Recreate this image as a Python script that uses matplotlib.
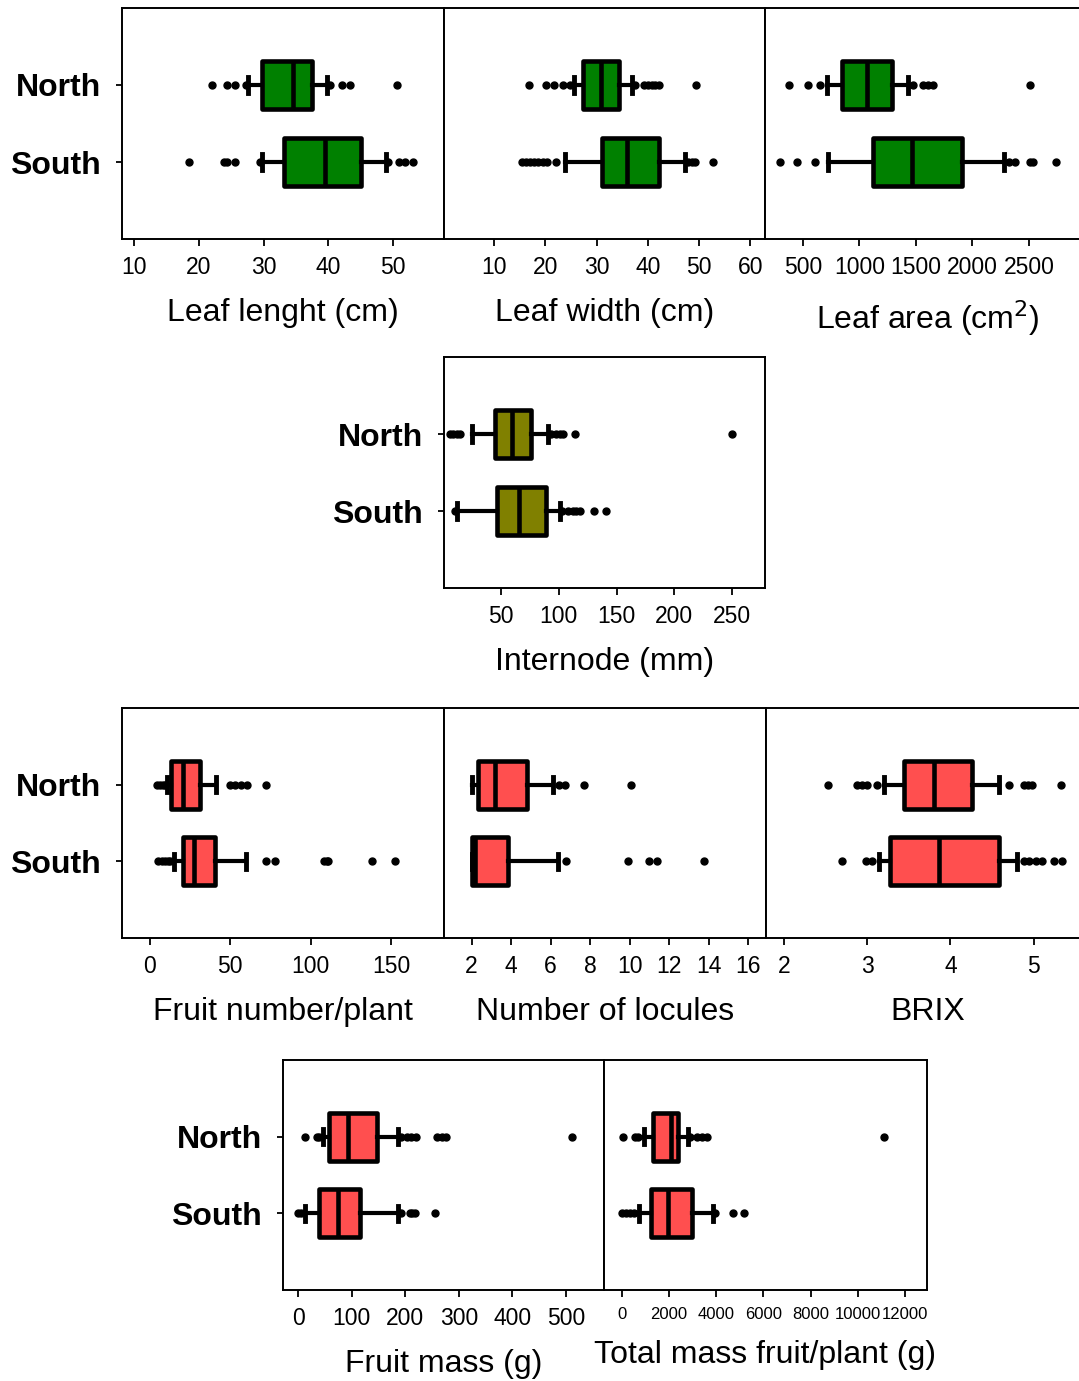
import matplotlib
matplotlib.use("Agg")
import matplotlib.pyplot as plt

plt.rcParams['font.family'] = ['Liberation Sans', 'DejaVu Sans']

groups = ["North", "South"]

# each box: [whislo, q1, median, q3, whishi]
leaf_length_box = [[27.6, 29.7, 34.6, 37.5, 39.8], [29.7, 33.1, 39.5, 45.0, 48.9]]
leaf_length_fliers = [[22.0, 24.4, 25.6, 27.3, 40.2, 42.1, 43.4, 50.7],
                      [18.4, 23.8, 24.4, 25.6, 29.4, 49.3, 50.9, 51.9, 53.1]]
leaf_length_ticks = [10, 20, 30, 40, 50]

leaf_width_box = [[25.5, 27.3, 30.8, 34.4, 37.0], [23.9, 31.0, 36.0, 42.1, 47.3]]
leaf_width_fliers = [[16.9, 20.2, 21.6, 23.5, 24.8, 37.6, 39.2, 40.0, 40.8, 41.5, 42.1, 49.4],
                     [15.4, 16.2, 17.0, 17.8, 18.6, 19.5, 20.3, 22.1, 47.8, 48.6, 49.3, 52.8]]
leaf_width_ticks = [10, 20, 30, 40, 50, 60]

leaf_area_box = [[710, 842, 1069, 1285, 1432], [719, 1122, 1462, 1904, 2279]]
leaf_area_fliers = [[379, 547, 650, 1470, 1565, 1610, 1655, 2509],
                    [296, 450, 606, 2320, 2376, 2510, 2535, 2737]]
leaf_area_ticks = [500, 1000, 1500, 2000, 2500]

internode_box = [[24.6, 44.8, 59.3, 75.7, 91.0], [11.6, 46.8, 65.6, 89.0, 101.0]]
internode_fliers = [[5.8, 8.5, 11.5, 14.5, 93, 98, 101, 104, 114, 250],
                    [10.0, 103, 108, 112, 115, 118, 130.5, 140.6]]
internode_ticks = [50, 100, 150, 200, 250]

fruit_number_box = [[10.4, 12.9, 20.3, 31.1, 41.0], [15.1, 20.7, 27.4, 40.4, 59.7]]
fruit_number_fliers = [[4.2, 6.0, 8.0, 9.5, 49.8, 53.0, 56.5, 60.2, 72.0],
                       [5.2, 7.5, 9.5, 11.0, 12.4, 72.0, 77.8, 108.3, 110.0, 111.0, 138.0, 152.5]]
fruit_number_ticks = [0, 50, 100, 150]

locules_box = [[2.0, 2.32, 3.17, 4.82, 6.14], [2.0, 2.0, 2.15, 3.85, 6.35]]
locules_fliers = [[6.4, 6.74, 7.67, 10.08],
                  [6.8, 9.9, 10.98, 11.37, 13.77]]
locules_ticks = [2, 4, 6, 8, 10, 12, 14, 16]

brix_box = [[3.20, 3.44, 3.80, 4.26, 4.59], [3.14, 3.27, 3.86, 4.58, 4.80]]
brix_fliers = [[2.53, 2.88, 2.93, 3.0, 3.12, 4.70, 4.88, 4.93, 4.98, 5.33],
               [2.70, 2.98, 3.05, 4.88, 4.95, 5.03, 5.10, 5.25, 5.34]]
brix_ticks = [2, 3, 4, 5]

fruit_mass_box = [[47.2, 58.4, 93.8, 146.8, 187], [13, 39.7, 75, 115.7, 187]]
fruit_mass_fliers = [[13, 35, 40, 192, 203, 210, 221, 258.8, 268, 277, 512],
                     [0.6, 5, 192, 209, 213, 218, 255.6]]
fruit_mass_ticks = [0, 100, 200, 300, 400, 500]

total_mass_box = [[958, 1339, 2076, 2373, 2822], [746, 1229, 1975, 2966, 3856]]
total_mass_fliers = [[42, 564, 700, 2900, 3178, 3400, 3602, 11114],
                     [0, 180, 352, 500, 3950, 4729, 5182]]
total_mass_ticks = [0, 2000, 4000, 6000, 8000, 10000, 12000]

GREEN = "#008000"
OLIVE = "#808000"
RED = "#FF4F4F"

W, H = 1079, 1381
fig = plt.figure(figsize=(W / 100, H / 100), dpi=100)


def make_ax(x0, x1, y0, y1):
    return fig.add_axes([x0 / W, 1 - y1 / H, (x1 - x0) / W, (y1 - y0) / H])


def panel(ax, box, fliers, ticks, xlim, color, label, show_y, tick_fs=16.5, labelpad=14):
    stats = []
    for b, f in zip(box, fliers):
        stats.append(dict(whislo=b[0], q1=b[1], med=b[2], q3=b[3], whishi=b[4], fliers=f))
    ax.bxp(stats, positions=[0, 1], orientation='horizontal', widths=0.63,
           patch_artist=True, capwidths=0.2,
           boxprops=dict(facecolor=color, edgecolor='k', linewidth=3.3, joinstyle='round'),
           medianprops=dict(color='k', linewidth=3.3, solid_capstyle='butt'),
           whiskerprops=dict(color='k', linewidth=3.0),
           capprops=dict(color='k', linewidth=3.5),
           flierprops=dict(marker='o', markerfacecolor='k', markeredgecolor='k',
                           markersize=5, linestyle='none'))
    ax.set_ylim(2, -1)
    ax.set_xlim(*xlim)
    ax.set_xticks(ticks)
    ax.set_xticklabels([str(t) for t in ticks], fontsize=tick_fs)
    ax.tick_params(axis='x', direction='out', length=5, width=1.3, pad=7)
    if show_y:
        ax.set_yticks([0, 1])
        ax.set_yticklabels(groups, fontsize=23, fontweight='bold')
        ax.tick_params(axis='y', direction='out', length=4, width=1.3, pad=11)
    else:
        ax.set_yticks([])
    for s in ax.spines.values():
        s.set_linewidth(1.4)
    ax.set_xlabel(label, fontsize=23, labelpad=labelpad)


# Row 1
a1 = make_ax(122, 444, 8, 239)
panel(a1, leaf_length_box, leaf_length_fliers, leaf_length_ticks, (8.1, 57.9), GREEN,
      "Leaf lenght (cm)", True)
a2 = make_ax(444, 765, 8, 239)
panel(a2, leaf_width_box, leaf_width_fliers, leaf_width_ticks, (0.2, 62.9), GREEN,
      "Leaf width (cm)", False)
a3 = make_ax(765, 1090, 8, 239)
panel(a3, leaf_area_box, leaf_area_fliers, leaf_area_ticks, (164, 3040), GREEN,
      "Leaf area (cm$^{2}$)", False)

# Row 2
b1 = make_ax(444, 765, 357, 588)
panel(b1, internode_box, internode_fliers, internode_ticks, (0.6, 278.6), OLIVE,
      "Internode (mm)", True)

# Row 3
c1 = make_ax(122, 444, 708, 938)
panel(c1, fruit_number_box, fruit_number_fliers, fruit_number_ticks, (-17.4, 183), RED,
      "Fruit number/plant", True)
c2 = make_ax(444, 766, 708, 938)
panel(c2, locules_box, locules_fliers, locules_ticks, (0.6, 16.9), RED,
      "Number of locules", False)
c3 = make_ax(766, 1090, 708, 938)
panel(c3, brix_box, brix_fliers, brix_ticks, (1.78, 5.68), RED,
      "BRIX", False)

# Row 4
d1 = make_ax(283, 604, 1060, 1290)
panel(d1, fruit_mass_box, fruit_mass_fliers, fruit_mass_ticks, (-28, 571), RED,
      "Fruit mass (g)", True)
d2 = make_ax(604, 927, 1060, 1290)
panel(d2, total_mass_box, total_mass_fliers, total_mass_ticks, (-750, 12936), RED,
      "Total mass fruit/plant (g)", False, tick_fs=12, labelpad=13)

fig.savefig("out.png", dpi=100)
